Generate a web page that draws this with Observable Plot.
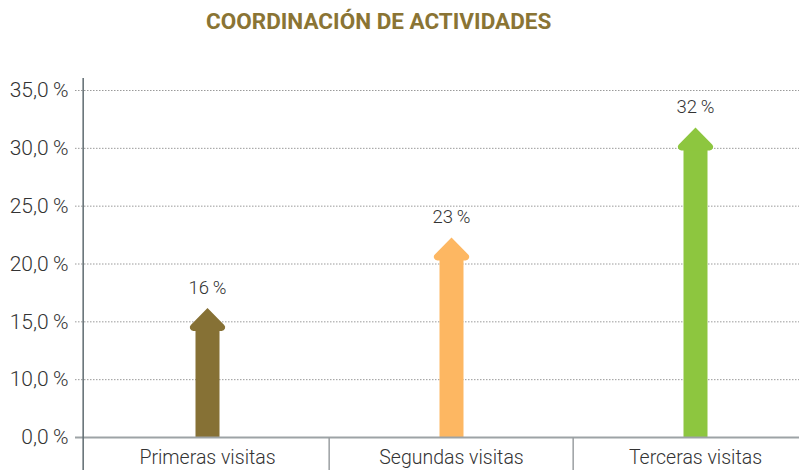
<!DOCTYPE html>
<html><head><meta charset="utf-8">
<script src="https://cdn.jsdelivr.net/npm/d3@7"></script>
<script src="https://cdn.jsdelivr.net/npm/@observablehq/plot@0.6"></script>
<style>
body{margin:0;background:#fff;}
#wrap{position:relative;width:799px;height:470px;}
#title{position:absolute;left:206px;top:10px;font:700 22.5px/22.5px Roboto;color:#8a7434;white-space:nowrap;z-index:2;}
#wrap svg{position:absolute;left:0;top:0;}
</style></head><body>
<div id="wrap"><div id="title">COORDINACIÓN DE ACTIVIDADES</div></div>
<script>
const categories = ["Primeras visitas", "Segundas visitas", "Terceras visitas"];
const values = [16.2, 22.3, 31.8];
const valueLabels = ["16\u2009%", "23\u2009%", "32\u2009%"];
const yTicks = [5, 10, 15, 20, 25, 30, 35];
const yTickLabels = ["0,0\u2009%", "10,0\u2009%", "15,0\u2009%", "20,0\u2009%", "25,0\u2009%", "30,0\u2009%", "35,0\u2009%"];
const palette = ["#867135", "#fdb762", "#8dc63f"];
const baseline = 5;

const data = categories.map((c, i) => ({category: c, value: values[i], label: valueLabels[i]}));
const xRange = [84, 818];
const band = (xRange[1] - xRange[0]) / categories.length;
const arrowHead = {
  draw(ctx) {
    ctx.moveTo(0, 0);
    ctx.arcTo(22.5, 23, -22.5, 23, 3.5);
    ctx.arcTo(-22.5, 23, 0, 0, 3.5);
    ctx.closePath();
  }
};

const chart = Plot.plot({
  width: 799,
  height: 470,
  marginLeft: 82,
  marginRight: 0,
  marginTop: 90,
  marginBottom: 33,
  style: {fontFamily: "Roboto", fontWeight: 300, color: "#333", background: "transparent"},
  x: {type: "band", domain: categories, range: xRange, padding: 0},
  y: {domain: [baseline, 35]},
  color: {domain: categories, range: palette},
  marks: [
    Plot.ruleY(yTicks.slice(1), {stroke: "#9a9a9a", strokeDasharray: "1.5,1.5", insetLeft: -7}),
    Plot.ruleX(data, {x: "category", y1: "value", y2: () => baseline, stroke: "category", strokeWidth: 24, insetTop: 20}),
    Plot.dot(data, {x: "category", y: "value", symbol: arrowHead, fill: "category", stroke: "none", r: 20}),
    Plot.text(data, {x: "category", y: "value", text: "label", dy: -20, fontSize: 18.5, fill: "#333"}),
    Plot.ruleY([baseline], {stroke: "#9da3a6", strokeWidth: 2, insetLeft: -7}),
    Plot.ruleX(categories.slice(1), {dx: -band / 2, insetTop: 347, insetBottom: -33, stroke: "#9b9fa2", strokeWidth: 1.5}),
    Plot.ruleX([categories[0]], {dx: -band / 2 - 2, insetTop: -12, insetBottom: -33, stroke: "#5f6b70", strokeWidth: 1.5}),
    Plot.axisY({ticks: yTicks, tickFormat: d => yTickLabels[yTicks.indexOf(d)], tickSize: 0, tickPadding: 14, fontSize: 21, label: null}),
    Plot.axisX({tickSize: 0, tickPadding: 13, fontSize: 19.5, letterSpacing: "-0.6px", label: null})
  ]
});
document.getElementById("wrap").appendChild(chart);
</script>
</body></html>
